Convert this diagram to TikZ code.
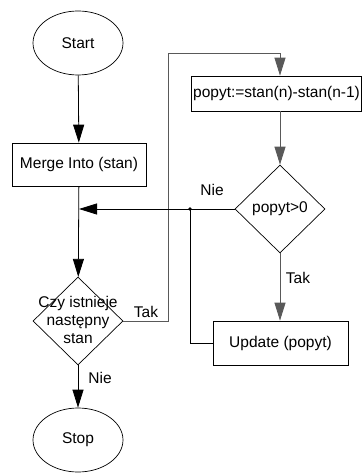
\documentclass[tikz,border=0pt]{standalone}
\usepackage{fontspec}
\setmainfont{Liberation Sans}
\usetikzlibrary{shapes.geometric,arrows.meta}
\tikzset{
	terminal/.style={ellipse,draw,line width=0.7pt,minimum width=90pt,minimum height=64pt,inner sep=0pt},
	process/.style={rectangle,draw,line width=0.7pt,minimum height=43pt,inner sep=2pt},
	decision/.style={diamond,draw,line width=0.7pt,minimum width=90pt,minimum height=88pt,inner sep=0pt},
	wire/.style={line width=0.8pt},
	greywire/.style={line width=0.9pt,draw=black!65},
	arr/.style={-{Triangle[length=18pt,width=11pt]}}
}
\begin{document}
\begin{tikzpicture}[x=1pt,y=-1pt,font=\fontsize{15.5}{18}\selectfont]
	
	\useasboundingbox (0,0) rectangle (362,473);
	
	\node(start) [terminal] at (78,43) {Start};
	
	\node(merge) [process,minimum width=134pt] at (79,164.5) {Merge Into (stan)};
	
	\node(next) [decision,label={[align=center,yshift=1pt]center:Czy istnieje\\następny\\stan}] at (78,321) {};
	
	\node(stop) [terminal] at (78,440) {Stop};
	
	\node(calc) [process,minimum width=170pt,minimum height=35pt,inner sep=0pt] at (276.5,93.5) {popyt:=stan(n)-stan(n-1)};
	
	\node(positive) [decision] at (280,209) {popyt>0};
	
	\node(update) [process,minimum width=135pt,minimum height=44pt] at (280.5,343) {Update (popyt)};
	
	\coordinate(looptop) at (168,53);
	
	\coordinate(join) at (190,209);
	
	\draw[wire,arr] (start) -- (merge);
	
	\draw[wire,arr] (merge) -- (next);
	
	\draw[wire,arr] (next) -- (stop);
	
	\draw[greywire,arr] (next.east) -| (looptop) -| ([xshift=3.5pt]calc.north);
	
	\draw[greywire,arr] ([xshift=3.5pt]calc.south) -- (positive.north);
	
	\draw[greywire,arr] (positive.south) -- (positive.south |- update.north);
	
	\draw[wire,arr] (positive.west) -- (positive.west -| merge.south);
	
	\draw[wire] (update.west) -| (join);
	
	\fill (join) circle (1.8pt);
	
	\node(nielabel) at (212,190) {Nie};
	
	\node(taklabel) at (298,278) {Tak};
	
	\node(loopnlabel) at (146,312) {Tak};
	
	\node(stoplabel) at (100,378) {Nie};
	
\end{tikzpicture}
\end{document}
